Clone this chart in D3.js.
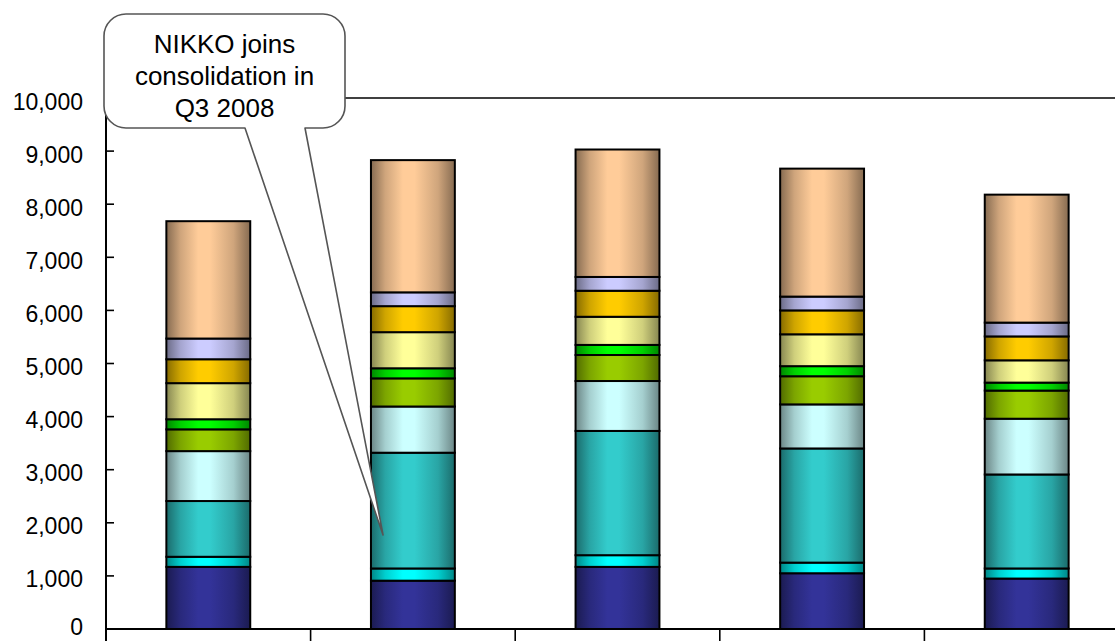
<!DOCTYPE html>
<html>
<head>
<meta charset="utf-8">
<script src="https://cdn.jsdelivr.net/npm/d3@7"></script>
<style>
  html, body { margin: 0; padding: 0; background: #fff; }
  svg { display: block; }
  text { font-family: "Liberation Sans", Arial, sans-serif; fill: #000; }
</style>
</head>
<body>
<svg id="chart" width="1115" height="641"></svg>
<script>
// Periods along the x axis (labels fall below the visible area)
const periods = ["P1", "P2", "P3", "P4", "P5"];

// Stacked segment values, bottom to top
const seg01 = [1170,  910, 1170, 1050,  950];
const seg02 = [ 190,  230,  220,  200,  190];
const seg03 = [1050, 2180, 2340, 2150, 1770];
const seg04 = [ 940,  870,  940,  830, 1050];
const seg05 = [ 410,  530,  490,  530,  530];
const seg06 = [ 190,  190,  190,  190,  150];
const seg07 = [ 680,  680,  530,  600,  420];
const seg08 = [ 450,  490,  490,  450,  450];
const seg09 = [ 390,  260,  260,  260,  260];
const seg10 = [2210, 2490, 2400, 2410, 2410];

const seriesValues = [seg01, seg02, seg03, seg04, seg05, seg06, seg07, seg08, seg09, seg10];
const seriesColors = ["#333399", "#00FFFF", "#33CCCC", "#CCFFFF", "#99CC00",
                      "#00FF00", "#FFFF99", "#FFCC00", "#CCCCFF", "#FFCC99"];

// Y axis tick values
const yTicks = [0, 1000, 2000, 3000, 4000, 5000, 6000, 7000, 8000, 9000, 10000];

// Callout annotation
const calloutLines = ["NIKKO joins", "consolidation in", "Q3 2008"];
const calloutPeriod = "P2";
const calloutValue = 1770;

const svg = d3.select("#chart");

const plot = { left: 106, right: 1129, top: 98, bottom: 629 };

const x = d3.scaleBand().domain(periods).range([plot.left, plot.right]).padding(0);
const y = d3.scaleLinear().domain([0, 10000]).range([plot.bottom, plot.top]);
const barW = x.bandwidth() * 0.41;

// Horizontal shaded gradients, dark at both edges
const defs = svg.append("defs");
seriesColors.forEach((c, i) => {
  const base = d3.rgb(c);
  const dark = base.darker(1.8);
  const mid = d3.interpolateRgb(dark, base)(0.6);
  const g = defs.append("linearGradient")
    .attr("id", "grad" + i)
    .attr("x1", "0").attr("x2", "1").attr("y1", "0").attr("y2", "0");
  g.append("stop").attr("offset", "0").attr("stop-color", dark);
  g.append("stop").attr("offset", "0.17").attr("stop-color", mid);
  g.append("stop").attr("offset", "0.38").attr("stop-color", base);
  g.append("stop").attr("offset", "0.52").attr("stop-color", base);
  g.append("stop").attr("offset", "0.8").attr("stop-color", mid);
  g.append("stop").attr("offset", "1").attr("stop-color", dark);
});

// Plot-area top border
svg.append("line")
  .attr("x1", plot.left).attr("x2", plot.right)
  .attr("y1", y(10000)).attr("y2", y(10000))
  .attr("stroke", "#000").attr("stroke-width", 1.6);

// Stack data
const rows = periods.map((p, j) => {
  const r = { period: p };
  seriesValues.forEach((vals, i) => { r["s" + i] = vals[j]; });
  return r;
});
const keys = seriesValues.map((_, i) => "s" + i);
const stacked = d3.stack().keys(keys)(rows);

const layers = svg.append("g").selectAll("g")
  .data(stacked)
  .join("g")
  .attr("fill", (d, i) => `url(#grad${i})`);

layers.selectAll("rect")
  .data(d => d)
  .join("rect")
  .attr("x", d => x(d.data.period) + (x.bandwidth() - barW) / 2)
  .attr("width", barW)
  .attr("y", d => y(d[1]))
  .attr("height", d => y(d[0]) - y(d[1]))
  .attr("stroke", "#000")
  .attr("stroke-width", 2);

// Y axis
svg.append("line")
  .attr("x1", plot.left).attr("x2", plot.left)
  .attr("y1", y(10000)).attr("y2", 641)
  .attr("stroke", "#000").attr("stroke-width", 2);

const yg = svg.append("g");
yg.selectAll("line")
  .data(yTicks.filter(t => t > 0))
  .join("line")
  .attr("x1", plot.left).attr("x2", plot.left + 8)
  .attr("y1", d => y(d)).attr("y2", d => y(d))
  .attr("stroke", "#000").attr("stroke-width", 1.6);
yg.selectAll("text")
  .data(yTicks)
  .join("text")
  .attr("x", 83)
  .attr("y", d => Math.min(y(d) + 11.5, 635))
  .attr("text-anchor", "end")
  .attr("font-size", 23)
  .text(d => d3.format(",")(d));

// X axis with tick marks on category boundaries
svg.append("line")
  .attr("x1", plot.left).attr("x2", plot.right)
  .attr("y1", plot.bottom).attr("y2", plot.bottom)
  .attr("stroke", "#000").attr("stroke-width", 2.2);
const bounds = periods.map(p => x(p)).concat([x.range()[1]]);
svg.append("g").selectAll("line")
  .data(bounds.slice(1))
  .join("line")
  .attr("x1", d => d).attr("x2", d => d)
  .attr("y1", plot.bottom).attr("y2", plot.bottom + 14)
  .attr("stroke", "#000").attr("stroke-width", 1.6);

// Callout balloon
const bx0 = 104, bx1 = 345, by0 = 14, by1 = 128, r = 22;
const tipX = x(calloutPeriod) + x.bandwidth() * 0.354;
const tipY = y(calloutValue);
const baseL = 245, baseR = 305;
const path = [
  `M${bx0 + r},${by0}`,
  `H${bx1 - r}`,
  `A${r},${r} 0 0 1 ${bx1},${by0 + r}`,
  `V${by1 - r}`,
  `A${r},${r} 0 0 1 ${bx1 - r},${by1}`,
  `H${baseR}`,
  `L${tipX},${tipY}`,
  `L${baseL},${by1}`,
  `H${bx0 + r}`,
  `A${r},${r} 0 0 1 ${bx0},${by1 - r}`,
  `V${by0 + r}`,
  `A${r},${r} 0 0 1 ${bx0 + r},${by0}`,
  "Z"
].join(" ");
svg.append("path")
  .attr("d", path)
  .attr("fill", "#fff")
  .attr("stroke", "#555")
  .attr("stroke-width", 1.6)
  .attr("stroke-linejoin", "round");

svg.append("g").selectAll("text")
  .data(calloutLines)
  .join("text")
  .attr("x", (bx0 + bx1) / 2)
  .attr("y", (d, i) => 53 + i * 32)
  .attr("text-anchor", "middle")
  .attr("font-size", 26)
  .text(d => d);
</script>
</body>
</html>
